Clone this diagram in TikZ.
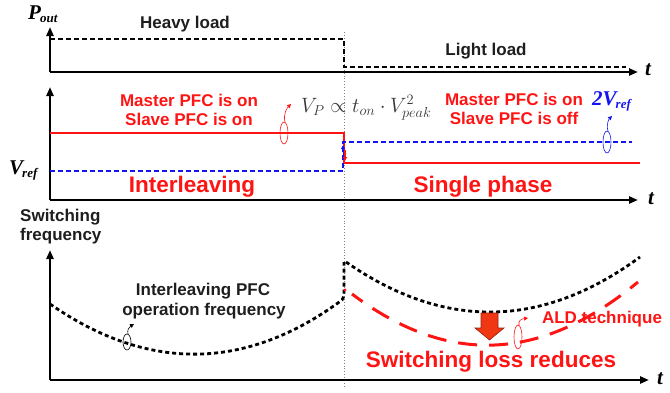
\documentclass[tikz,border=0pt]{standalone}
\usepackage{fontspec}
\setmainfont{Liberation Sans}
\newfontfamily\tms{Liberation Serif}
\usetikzlibrary{arrows.meta}
\definecolor{txtgray}{RGB}{30,30,30}
\definecolor{fgray}{RGB}{55,55,55}
\definecolor{bred}{RGB}{255,20,20}
\definecolor{bblue}{RGB}{20,20,240}
\definecolor{arrfill}{RGB}{240,55,20}
\definecolor{arrdraw}{RGB}{150,30,10}
\tikzset{
  axis/.style={line width=2.5pt, draw=black, -{Triangle[length=9pt,width=7pt]}},
  lbl/.style={font=\fontsize{17}{19}\selectfont\bfseries, text=txtgray, inner sep=0pt},
  redlbl/.style={lbl, text=bred, align=center},
  biglbl/.style={font=\fontsize{22.5}{24}\selectfont\bfseries, text=bred, inner sep=0pt},
  varlbl/.style={font=\fontsize{21}{22}\selectfont\tms\bfseries\itshape, inner sep=0pt},
  blkdash/.style={line width=2.4pt, draw=black, dash pattern=on 5pt off 3pt},
  bluedash/.style={line width=2.6pt, draw=bblue, dash pattern=on 5pt off 3pt},
  blkdot/.style={line width=2.8pt, draw=black, dash pattern=on 4pt off 3pt},
  redsolid/.style={line width=2.6pt, draw=bred},
  reddash/.style={line width=3pt, draw=bred, dash pattern=on 19pt off 12pt},
  noteline/.style={line width=0.6pt, -{Triangle[length=4pt,width=4pt]}},
}
\begin{document}
\begin{tikzpicture}[x=1pt,y=-1pt]
\useasboundingbox (0,0) rectangle (670,392);
% divider
\draw[gray, line width=0.9pt, dotted] (344,32) -- (344,388);

% ---------- top panel ----------
\draw[axis] (50,72) -- (50,27);
\draw[axis] (50,72) -- (638,72);
\draw[blkdash] (50,39) -- (344,39) -- (344,67) -- (626,67);
\node[varlbl, anchor=base west] (pout) at (28,19) {P\kern-1pt\raisebox{-3pt}{\fontsize{13}{13}\selectfont out}};
\node[varlbl, anchor=base west] (t1) at (645,75) {t};
\node[lbl, anchor=base] (heavy) at (185,28) {Heavy load};
\node[lbl, anchor=base] (light) at (486,55) {Light load};

% ---------- middle panel ----------
\draw[axis] (50,200) -- (50,87);
\draw[axis] (50,200) -- (638,200);
\draw[redsolid] (50,133) -- (344,133) -- (344,163) -- (640,163);
\draw[bluedash] (50,171) -- (343,171) -- (343,142) -- (632,142);
\draw[bblue, line width=1pt, -{Triangle[length=4pt,width=4pt]}] (343,158) -- (343,145);
\draw[bred, line width=1pt, -{Triangle[length=4pt,width=4pt]}] (345,150) -- (345,161);
\node[varlbl, anchor=base west] (vref) at (9,174) {V\kern-1pt\raisebox{-3pt}{\fontsize{13}{13}\selectfont ref}};
\node[varlbl, anchor=base west] (t2) at (648,204) {t};
\node[redlbl, anchor=base] (m1) at (189,106) {Master PFC is on};
\node[redlbl, anchor=base] (s1) at (189,125) {Slave PFC is on};
\node[redlbl, anchor=base] (m2) at (514,105) {Master PFC is on};
\node[redlbl, anchor=base] (s2) at (514,124) {Slave PFC is off};
\node[anchor=base west, inner sep=0pt, text=fgray, font=\fontsize{20}{20}\selectfont] (form) at (301,112)
  {$V_P \propto t_{on}\cdot V_{peak}^{2}$};
\node[varlbl, text=bblue, anchor=base west] (tworef) at (592,105) {2V\kern-1pt\raisebox{-3pt}{\fontsize{13}{13}\selectfont ref}};
\node[biglbl, anchor=base] (inter) at (192,192) {Interleaving};
\node[biglbl, anchor=base] (single) at (483,192) {Single phase};
% annotation ellipses
\draw[bred, line width=0.6pt] (284,133) ellipse [x radius=4pt, y radius=11pt];
\draw[noteline, bred] (285,122) .. controls (283,114) and (287,108) .. (291,104);
\draw[bblue, line width=0.6pt] (607,142) ellipse [x radius=4pt, y radius=11pt];
\draw[noteline, bblue] (608,131) .. controls (606,124) and (609,119) .. (612,116);

% ---------- bottom panel ----------
\draw[axis] (50,380) -- (50,250);
\draw[axis] (50,380) -- (649,380);
\node[varlbl, anchor=base west] (t3) at (657,384) {t};
\node[lbl, anchor=base west] (sw1) at (20,221) {Switching};
\node[lbl, anchor=base west] (sw2) at (20,240) {frequency};
\draw[blkdot] (50,304) .. controls (148,372) and (246,371) .. (342,300) -- (344,296) -- (344,262);
\draw[blkdot] (346,262) .. controls (444,330) and (542,329) .. (640,257);
\fill[bred] (345,290) circle (1.6pt);
\draw[reddash, dash phase=6pt] (352,294) .. controls (448,366) and (541,362) .. (638,282);
\draw[arrdraw, fill=arrfill, line width=0.6pt] (481,313) -- (498,313) -- (498,328) -- (504,328) -- (489.5,340) -- (475,328) -- (481,328) -- cycle;
\node[lbl, text=txtgray, anchor=base] (ipfc1) at (203,295) {Interleaving PFC};
\node[lbl, text=txtgray, anchor=base] (ipfc2) at (204,315) {operation frequency};
\draw[black, line width=0.6pt] (127,342) ellipse [x radius=4pt, y radius=8pt];
\draw[noteline, black] (128,334) .. controls (127,330) and (129,327) .. (134,324);
\node[redlbl, anchor=base] (ald) at (602,323) {ALD technique};
\draw[bred, line width=0.6pt] (518,337) ellipse [x radius=4pt, y radius=12pt];
\draw[noteline, bred] (519,325) .. controls (518,321) and (521,319) .. (528,318);
\node[biglbl, anchor=base] (slr) at (491,367) {Switching loss reduces};
\end{tikzpicture}
\end{document}
